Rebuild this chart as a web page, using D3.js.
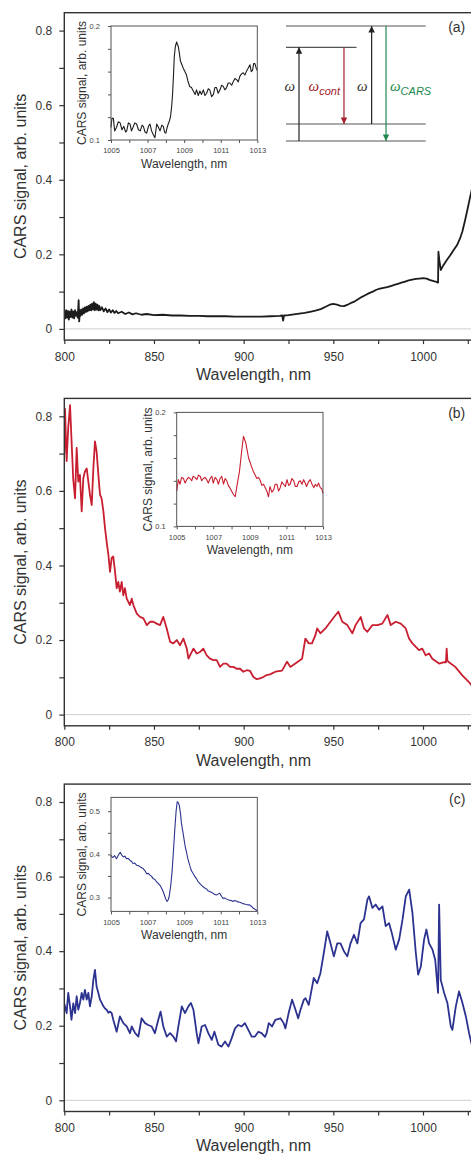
<!DOCTYPE html>
<html>
<head>
<meta charset="utf-8">
<script src="https://cdn.jsdelivr.net/npm/d3@7"></script>
<style>
  body { margin: 0; background: #fff; }
  svg { display: block; font-family: "Liberation Sans", Arial, sans-serif; }
</style>
</head>
<body>
<div id="chart"></div>
<script>
// spectra: [wavelength (nm), CARS signal (arb. units)]
var spectrumA = [[800,0.040],[800.5,0.028],[801,0.050],[801.5,0.030],[802,0.048],[802.5,0.025],[803,0.046],[803.5,0.032],[804,0.052],[804.5,0.030],[805,0.047],[805.5,0.028],[806,0.050],[806.5,0.035],[807,0.045],[807.5,0.030],[808,0.077],[808.3,0.020],[808.7,0.050],[809,0.035],[809.5,0.052],[810,0.038],[810.5,0.055],[811,0.042],[811.5,0.058],[812,0.045],[812.5,0.060],[813,0.047],[813.5,0.062],[814,0.050],[814.5,0.065],[815,0.050],[815.5,0.068],[816,0.052],[816.5,0.072],[817,0.050],[817.5,0.068],[818,0.052],[818.5,0.065],[819,0.050],[819.5,0.062],[820,0.050],[821,0.058],[822,0.047],[823,0.055],[824,0.045],[825,0.052],[826,0.044],[827,0.050],[828,0.043],[829,0.048],[830,0.042],[832,0.046],[834,0.040],[836,0.044],[838,0.039],[840,0.042],[843,0.038],[846,0.040],[850,0.037],[855,0.038],[860,0.036],[865,0.036],[870,0.035],[875,0.035],[880,0.034],[885,0.034],[890,0.034],[895,0.033],[900,0.033],[905,0.033],[910,0.033],[915,0.034],[920,0.035],[921.5,0.036],[922,0.022],[922.5,0.036],[925,0.037],[928,0.039],[931,0.041],[934,0.043],[937,0.046],[940,0.049],[943,0.053],[946,0.060],[948,0.065],[950,0.067],[952,0.065],[954,0.062],[956,0.061],[958,0.065],[960,0.070],[962,0.074],[964,0.080],[966,0.086],[968,0.091],[970,0.096],[972,0.100],[974,0.105],[976,0.108],[978,0.110],[980,0.112],[982,0.115],[984,0.118],[986,0.121],[988,0.124],[990,0.127],[992,0.130],[994,0.132],[996,0.134],[998,0.135],[1000,0.136],[1002,0.135],[1004,0.131],[1006,0.128],[1007.5,0.126],[1008.4,0.124],[1008.6,0.207],[1009.1,0.185],[1009.9,0.158],[1011.4,0.171],[1013.2,0.184],[1015,0.196],[1017,0.211],[1019,0.225],[1020.6,0.242],[1022,0.262],[1023.5,0.292],[1025,0.325],[1026.2,0.352],[1027.5,0.380],[1029,0.410]];

var spectrumB = [[800,0.70],[800.4,0.82],[801.3,0.68],[802.2,0.77],[803.2,0.83],[804,0.74],[805,0.63],[806,0.58],[806.9,0.715],[807.8,0.625],[808.7,0.643],[809.7,0.545],[810.6,0.634],[811.5,0.652],[812.5,0.66],[813.4,0.625],[814.3,0.59],[815.3,0.562],[816.2,0.66],[817.1,0.733],[818,0.706],[819,0.643],[819.9,0.59],[820.8,0.58],[821.8,0.545],[822.7,0.5],[823.6,0.464],[824.6,0.428],[825.5,0.383],[826.4,0.42],[827.3,0.424],[828.3,0.383],[829.2,0.339],[830.1,0.356],[831,0.33],[832,0.356],[832.9,0.32],[833.8,0.339],[834.8,0.311],[836.6,0.294],[837.6,0.311],[838.5,0.294],[840.4,0.271],[842.2,0.262],[844.1,0.258],[846,0.24],[847.8,0.249],[849.7,0.249],[851.5,0.244],[853.4,0.24],[855.2,0.262],[857.1,0.231],[859,0.195],[860.8,0.191],[862.7,0.2],[864.5,0.186],[866.4,0.204],[868.3,0.177],[869.2,0.15],[872,0.177],[873.8,0.164],[875.7,0.168],[877.5,0.177],[879.4,0.159],[881.2,0.15],[883.1,0.146],[885,0.146],[886.8,0.128],[888.7,0.137],[890.5,0.137],[892.4,0.128],[894.3,0.128],[896.1,0.123],[898,0.123],[899.8,0.115],[901.7,0.119],[903.6,0.117],[905.4,0.101],[907.3,0.095],[909.1,0.097],[911,0.101],[912.8,0.106],[914.7,0.108],[917.7,0.115],[921.4,0.118],[924.2,0.142],[926,0.128],[928.8,0.137],[932.6,0.15],[934.4,0.204],[936.3,0.191],[938.1,0.191],[940,0.213],[941,0.231],[942.8,0.218],[945.6,0.231],[948.4,0.249],[951.3,0.267],[952.8,0.276],[955,0.249],[957.8,0.24],[960.6,0.218],[962.4,0.24],[965.3,0.262],[967.1,0.231],[969,0.222],[971.8,0.24],[974.6,0.24],[977.3,0.244],[980.2,0.267],[982,0.24],[984.8,0.249],[987.6,0.244],[990.4,0.231],[992.2,0.204],[994.1,0.191],[997.8,0.173],[999.6,0.177],[1001.5,0.159],[1003.4,0.164],[1005.2,0.15],[1009,0.137],[1011.8,0.141],[1012.8,0.14],[1013.2,0.177],[1013.6,0.145],[1014.3,0.141],[1018,0.128],[1021.8,0.106],[1025.5,0.088],[1026.8,0.08],[1028,0.072]];

var spectrumC = [[800,0.26],[800.4,0.252],[801.3,0.234],[802.2,0.288],[803.2,0.252],[804,0.216],[805,0.26],[806,0.234],[806.9,0.279],[807.8,0.243],[808.7,0.26],[809.7,0.288],[810.6,0.27],[811.5,0.296],[812.5,0.27],[813.4,0.288],[814.3,0.252],[815.3,0.279],[816.2,0.323],[817.1,0.35],[818,0.305],[819,0.288],[819.9,0.27],[820.8,0.262],[821.8,0.252],[822.7,0.246],[823.6,0.243],[824.6,0.235],[825.5,0.238],[826.4,0.234],[827.3,0.216],[829.2,0.184],[831,0.225],[832.9,0.207],[834.8,0.198],[836.6,0.18],[837.6,0.198],[839.5,0.18],[841.3,0.171],[843.1,0.22],[845,0.207],[846.8,0.202],[848.7,0.198],[850.5,0.18],[852.4,0.216],[853.7,0.238],[855.2,0.198],[857.1,0.171],[859,0.18],[860.8,0.171],[862.3,0.158],[863.6,0.198],[865.5,0.252],[867.3,0.234],[869.2,0.252],[870.6,0.261],[872,0.243],[873.8,0.18],[874.8,0.153],[876.6,0.198],[878.5,0.202],[880.3,0.18],[882.2,0.162],[883.7,0.184],[885.9,0.149],[887.7,0.144],[889.6,0.158],[891.5,0.144],[893.3,0.166],[895.2,0.193],[897,0.202],[898.9,0.198],[900.7,0.207],[902.6,0.189],[904.5,0.171],[906.3,0.171],[908.2,0.184],[910,0.18],[911.9,0.17],[912.8,0.18],[914,0.207],[915.8,0.198],[917.7,0.216],[920.5,0.22],[922.3,0.207],[923.3,0.193],[925.1,0.234],[927,0.27],[928.9,0.243],[930.4,0.22],[931.7,0.243],[933.6,0.27],[934.5,0.274],[936.3,0.256],[938.2,0.305],[939.1,0.328],[941,0.314],[942.8,0.341],[944.7,0.395],[946.6,0.453],[948.4,0.421],[950.3,0.386],[952.2,0.421],[954,0.421],[955.9,0.4],[957.8,0.386],[959.6,0.421],[961.5,0.444],[963.4,0.421],[965.2,0.475],[967.1,0.485],[969,0.538],[969.9,0.547],[971.8,0.516],[973.6,0.525],[975.5,0.511],[977.4,0.52],[979.2,0.467],[981.1,0.475],[982.6,0.449],[984.8,0.404],[986.7,0.431],[988.6,0.485],[990.4,0.547],[992.3,0.565],[994.1,0.503],[996,0.395],[997.3,0.337],[998.8,0.359],[1000.6,0.431],[1001.9,0.458],[1003.4,0.421],[1005.3,0.404],[1006.8,0.377],[1008.4,0.288],[1009,0.525],[1009.9,0.323],[1011.8,0.288],[1013.6,0.261],[1015.5,0.198],[1016.4,0.189],[1018.3,0.252],[1020.1,0.292],[1022,0.261],[1023.9,0.225],[1025.7,0.18],[1027,0.153],[1028.5,0.13]];

// zoomed spectra near 1009 nm
var insetA = [[1005,0.111],[1005.05,0.119],[1005.13,0.119],[1005.2,0.108],[1005.3,0.111],[1005.4,0.116],[1005.5,0.115],[1005.6,0.109],[1005.7,0.112],[1005.8,0.107],[1005.86,0.108],[1005.95,0.115],[1006.04,0.114],[1006.12,0.108],[1006.2,0.111],[1006.3,0.115],[1006.4,0.114],[1006.5,0.109],[1006.6,0.108],[1006.7,0.113],[1006.77,0.112],[1006.86,0.107],[1006.95,0.106],[1007.05,0.112],[1007.13,0.114],[1007.22,0.108],[1007.3,0.105],[1007.4,0.102],[1007.5,0.114],[1007.6,0.111],[1007.68,0.108],[1007.78,0.113],[1007.86,0.112],[1007.93,0.107],[1008,0.106],[1008.07,0.111],[1008.13,0.114],[1008.2,0.117],[1008.26,0.121],[1008.32,0.13],[1008.37,0.141],[1008.42,0.158],[1008.46,0.173],[1008.52,0.182],[1008.59,0.186],[1008.63,0.184],[1008.68,0.182],[1008.74,0.176],[1008.8,0.169],[1008.88,0.166],[1008.95,0.163],[1009.04,0.16],[1009.13,0.157],[1009.2,0.152],[1009.3,0.147],[1009.4,0.146],[1009.5,0.143],[1009.6,0.14],[1009.68,0.144],[1009.77,0.139],[1009.86,0.143],[1009.95,0.14],[1010.05,0.144],[1010.14,0.139],[1010.23,0.141],[1010.32,0.145],[1010.4,0.144],[1010.5,0.138],[1010.6,0.14],[1010.68,0.146],[1010.77,0.146],[1010.86,0.141],[1010.96,0.144],[1011.05,0.148],[1011.14,0.147],[1011.23,0.144],[1011.32,0.146],[1011.41,0.15],[1011.5,0.15],[1011.6,0.148],[1011.68,0.151],[1011.78,0.154],[1011.87,0.153],[1011.96,0.151],[1012.05,0.156],[1012.14,0.158],[1012.23,0.159],[1012.32,0.157],[1012.4,0.16],[1012.5,0.163],[1012.6,0.166],[1012.67,0.16],[1012.74,0.161],[1012.8,0.167],[1012.87,0.167],[1012.94,0.163],[1013,0.161]];

var insetB = [[1005,0.131],[1005.09,0.141],[1005.18,0.137],[1005.27,0.143],[1005.37,0.142],[1005.46,0.138],[1005.55,0.141],[1005.64,0.143],[1005.73,0.142],[1005.82,0.14],[1005.9,0.144],[1006,0.143],[1006.1,0.141],[1006.19,0.145],[1006.28,0.144],[1006.37,0.14],[1006.46,0.142],[1006.55,0.143],[1006.64,0.141],[1006.73,0.138],[1006.83,0.142],[1006.92,0.144],[1007,0.138],[1007.1,0.143],[1007.2,0.141],[1007.28,0.137],[1007.37,0.142],[1007.46,0.144],[1007.56,0.137],[1007.65,0.142],[1007.74,0.14],[1007.82,0.136],[1007.9,0.134],[1008,0.131],[1008.1,0.128],[1008.2,0.126],[1008.26,0.132],[1008.32,0.138],[1008.43,0.148],[1008.5,0.158],[1008.56,0.167],[1008.65,0.179],[1008.72,0.176],[1008.78,0.173],[1008.86,0.166],[1008.93,0.16],[1009.02,0.156],[1009.1,0.152],[1009.2,0.148],[1009.29,0.145],[1009.38,0.142],[1009.48,0.143],[1009.57,0.14],[1009.66,0.136],[1009.75,0.137],[1009.84,0.134],[1009.93,0.131],[1010.02,0.126],[1010.1,0.135],[1010.2,0.13],[1010.3,0.132],[1010.39,0.137],[1010.48,0.137],[1010.57,0.131],[1010.66,0.134],[1010.75,0.139],[1010.84,0.137],[1010.94,0.135],[1011.03,0.141],[1011.12,0.136],[1011.2,0.137],[1011.3,0.142],[1011.4,0.14],[1011.49,0.135],[1011.58,0.135],[1011.67,0.139],[1011.76,0.14],[1011.85,0.137],[1011.94,0.141],[1012.03,0.138],[1012.1,0.135],[1012.2,0.139],[1012.3,0.141],[1012.4,0.137],[1012.5,0.134],[1012.58,0.137],[1012.67,0.135],[1012.76,0.138],[1012.85,0.134],[1012.93,0.133],[1013,0.129]];

var insetC = [[1005,0.398],[1005.07,0.393],[1005.13,0.394],[1005.2,0.397],[1005.3,0.39],[1005.4,0.398],[1005.5,0.405],[1005.58,0.399],[1005.67,0.394],[1005.76,0.396],[1005.85,0.39],[1005.94,0.391],[1006.04,0.386],[1006.12,0.384],[1006.2,0.379],[1006.3,0.38],[1006.4,0.375],[1006.5,0.374],[1006.6,0.371],[1006.68,0.369],[1006.76,0.367],[1006.86,0.362],[1006.95,0.355],[1007.04,0.356],[1007.13,0.352],[1007.22,0.349],[1007.3,0.344],[1007.4,0.342],[1007.5,0.336],[1007.58,0.333],[1007.67,0.329],[1007.76,0.322],[1007.85,0.314],[1007.92,0.306],[1007.98,0.298],[1008.07,0.291],[1008.13,0.295],[1008.18,0.302],[1008.27,0.329],[1008.34,0.36],[1008.4,0.398],[1008.5,0.465],[1008.56,0.5],[1008.62,0.522],[1008.68,0.52],[1008.73,0.514],[1008.8,0.495],[1008.85,0.473],[1008.92,0.455],[1008.98,0.439],[1009.05,0.42],[1009.13,0.405],[1009.2,0.39],[1009.3,0.375],[1009.4,0.362],[1009.5,0.355],[1009.58,0.349],[1009.67,0.344],[1009.76,0.337],[1009.85,0.333],[1009.94,0.329],[1010.04,0.325],[1010.12,0.322],[1010.2,0.321],[1010.3,0.316],[1010.4,0.314],[1010.5,0.312],[1010.58,0.31],[1010.67,0.307],[1010.76,0.306],[1010.85,0.308],[1010.95,0.31],[1011.04,0.303],[1011.13,0.298],[1011.22,0.299],[1011.3,0.297],[1011.4,0.295],[1011.5,0.294],[1011.58,0.293],[1011.67,0.291],[1011.76,0.293],[1011.85,0.292],[1011.94,0.29],[1012.04,0.289],[1012.12,0.288],[1012.2,0.286],[1012.3,0.285],[1012.4,0.284],[1012.5,0.283],[1012.58,0.283],[1012.67,0.28],[1012.76,0.276],[1012.85,0.274],[1012.93,0.271],[1013,0.27]];

var panelLabels = ["(a)", "(b)", "(c)"];
var lineColors = ["#1c1c1c", "#c81e30", "#2c3290"];

var mainXTicks = [800, 825, 850, 875, 900, 925, 950, 975, 1000, 1025];
var mainXLabels = [800, 850, 900, 950, 1000];
var mainYTicks = [0, 0.1, 0.2, 0.3, 0.4, 0.5, 0.6, 0.7, 0.8];
var mainYLabels = [0, 0.2, 0.4, 0.6, 0.8];

var insetXTicks = [1005, 1006, 1007, 1008, 1009, 1010, 1011, 1012, 1013];
var insetXLabels = [1005, 1007, 1009, 1011, 1013];
var insetYTicks = [[0.1, 0.12, 0.14, 0.16, 0.18, 0.2], [0.1, 0.12, 0.14, 0.16, 0.18, 0.2], [0.3, 0.35, 0.4, 0.45, 0.5]];
var insetYLabels = [[0.1, 0.2], [0.1, 0.2], [0.3, 0.4, 0.5]];
var insetYDomains = [[0.1, 0.2], [0.1, 0.2], [0.268, 0.532]];

// energy level scheme in panel (a), in diagram units (0..1)
var levelEnergy = [1, 0.815, 0.148, 0];
var levelEnd = [1, 0.505, 1, 1];
var arrowPos = [0.093, 0.415, 0.613, 0.716];
var arrowFrom = [0, 0.815, 0.148, 1];
var arrowTo = [0.815, 0.148, 1, 0];
var arrowColor = ["#222", "#a3212c", "#222", "#23884f"];
var arrowSub = ["", "cont", "", "CARS"];

var W = 471, H = 1157;
var left = 64.3, top0 = 12.7, panelStep = 385.7, plotH = 327.4, plotW = 412.5;
var insetW = 146.3, insetH = 114;
var insetLeft = [46.7, 112.4, 46.7], insetTop = [13.3, 14, 13.3];
var spectra = [spectrumA, spectrumB, spectrumC];
var insets = [insetA, insetB, insetC];

var svg = d3.select('#chart').append('svg').attr('width', W).attr('height', H);

var x = d3.scaleLinear().domain([800, 1030]).range([0, plotW]);
var y = d3.scaleLinear().domain([-0.03, 0.848]).range([plotH, 0]);

function fmt(d) {
  return d === 0 ? '0' : d3.format('.1f')(d);
}

function drawPanel(i) {
  var g = svg.append('g').attr('transform', 'translate(' + left + ',' + (top0 + i * panelStep) + ')');

  g.append('clipPath').attr('id', 'clip' + i)
    .append('rect').attr('width', plotW).attr('height', plotH);

  // zero line
  g.append('line')
    .attr('x1', 0).attr('x2', plotW)
    .attr('y1', y(0)).attr('y2', y(0))
    .attr('stroke', '#cfcfcf').attr('stroke-width', 1);

  var line = d3.line().x(function(d) { return x(d[0]); }).y(function(d) { return y(d[1]); });
  g.append('path').datum(spectra[i])
    .attr('clip-path', 'url(#clip' + i + ')')
    .attr('d', line)
    .attr('fill', 'none')
    .attr('stroke', lineColors[i])
    .attr('stroke-width', 1.8)
    .attr('stroke-linejoin', 'round');

  var xAxis = d3.axisBottom(x).tickValues(mainXTicks).tickSize(4).tickPadding(8)
    .tickFormat(function(d) { return mainXLabels.indexOf(d) >= 0 ? d : ''; });
  var gx = g.append('g').attr('transform', 'translate(0,' + plotH + ')').call(xAxis);
  gx.select('.domain').remove();
  gx.selectAll('line').attr('stroke', '#333').attr('stroke-width', 1.2);
  gx.selectAll('text').attr('font-size', 12).attr('fill', '#333');

  var yAxis = d3.axisLeft(y).tickValues(mainYTicks).tickSize(5).tickPadding(7)
    .tickFormat(function(d) { return mainYLabels.indexOf(d) >= 0 ? fmt(d) : ''; });
  var gy = g.append('g').call(yAxis);
  gy.select('.domain').remove();
  gy.selectAll('line').attr('stroke', '#333').attr('stroke-width', 1.2);
  gy.selectAll('text').attr('font-size', 12).attr('fill', '#333');

  // frame
  g.append('rect').attr('width', plotW).attr('height', plotH)
    .attr('fill', 'none').attr('stroke', '#333').attr('stroke-width', 1.4);

  g.append('text')
    .attr('x', plotW / 2 - 17).attr('y', plotH + 40)
    .attr('text-anchor', 'middle').attr('font-size', 16).attr('fill', '#333')
    .text('Wavelength, nm');

  g.append('text')
    .attr('transform', 'translate(' + (26 - left) + ',' + (plotH / 2) + ') rotate(-90)')
    .attr('text-anchor', 'middle').attr('font-size', 16).attr('fill', '#333')
    .text('CARS signal, arb. units');

  g.append('text')
    .attr('x', 401).attr('y', 19.5)
    .attr('text-anchor', 'end').attr('font-size', 14).attr('fill', '#333')
    .text(panelLabels[i]);

  drawInset(g, i);
  if (i === 0) drawScheme(g);
}

function drawInset(parent, i) {
  var g = parent.append('g').attr('transform', 'translate(' + insetLeft[i] + ',' + insetTop[i] + ')');
  var ix = d3.scaleLinear().domain([1005, 1013]).range([0, insetW]);
  var iy = d3.scaleLinear().domain(insetYDomains[i]).range([insetH, 0]);

  g.append('rect').attr('width', insetW).attr('height', insetH).attr('fill', '#fff');

  var line = d3.line().x(function(d) { return ix(d[0]); }).y(function(d) { return iy(d[1]); });
  g.append('path').datum(insets[i])
    .attr('d', line)
    .attr('fill', 'none')
    .attr('stroke', lineColors[i])
    .attr('stroke-width', 1.1)
    .attr('stroke-linejoin', 'round');

  var xAxis = d3.axisBottom(ix).tickValues(insetXTicks).tickSize(3).tickPadding(5)
    .tickFormat(function(d) { return insetXLabels.indexOf(d) >= 0 ? d : ''; });
  var gx = g.append('g').attr('transform', 'translate(0,' + insetH + ')').call(xAxis);
  gx.select('.domain').remove();
  gx.selectAll('line').attr('stroke', '#555');
  gx.selectAll('text').attr('font-size', 7.5).attr('fill', '#444');

  var yAxis = d3.axisLeft(iy).tickValues(insetYTicks[i]).tickSize(3).tickPadding(8)
    .tickFormat(function(d) { return insetYLabels[i].indexOf(d) >= 0 ? d3.format('.1f')(d) : ''; });
  var gy = g.append('g').call(yAxis);
  gy.select('.domain').remove();
  gy.selectAll('line').attr('stroke', '#555');
  gy.selectAll('text').attr('font-size', 7.5).attr('fill', '#444');

  g.append('rect').attr('width', insetW).attr('height', insetH)
    .attr('fill', 'none').attr('stroke', '#555').attr('stroke-width', 1);

  g.append('text')
    .attr('x', insetW / 2).attr('y', insetH + 27.5)
    .attr('text-anchor', 'middle').attr('font-size', 12).attr('fill', '#333')
    .text('Wavelength, nm');

  g.append('text')
    .attr('transform', 'translate(-25,' + (insetH / 2) + ') rotate(-90)')
    .attr('text-anchor', 'middle').attr('font-size', 12).attr('fill', '#333')
    .text('CARS signal, arb. units');
}

function drawScheme(parent) {
  var g = parent.append('g');
  var sx = d3.scaleLinear().domain([0, 1]).range([286 - left, 425.7 - left]);
  var sy = d3.scaleLinear().domain([0, 1]).range([141 - top0, 26 - top0]);

  var defs = g.append('defs');
  arrowColor.forEach(function(c, k) {
    defs.append('marker').attr('id', 'head' + k)
      .attr('viewBox', '0 0 10 10').attr('refX', 10).attr('refY', 5)
      .attr('markerUnits', 'userSpaceOnUse')
      .attr('markerWidth', 10).attr('markerHeight', 6.5)
      .attr('orient', 'auto')
      .append('path').attr('d', 'M0,0L10,5L0,10Z').attr('fill', c);
  });

  g.selectAll('line.level').data(levelEnergy).enter().append('line')
    .attr('class', 'level')
    .attr('x1', sx(0)).attr('x2', function(d, k) { return sx(levelEnd[k]); })
    .attr('y1', function(d) { return sy(d); }).attr('y2', function(d) { return sy(d); })
    .attr('stroke', '#555').attr('stroke-width', 1.2);

  g.selectAll('line.arrow').data(arrowPos).enter().append('line')
    .attr('class', 'arrow')
    .attr('x1', function(d) { return sx(d); }).attr('x2', function(d) { return sx(d); })
    .attr('y1', function(d, k) { return sy(arrowFrom[k]); })
    .attr('y2', function(d, k) { return sy(arrowTo[k]); })
    .attr('stroke', function(d, k) { return arrowColor[k]; })
    .attr('stroke-width', 1.2)
    .attr('marker-end', function(d, k) { return 'url(#head' + k + ')'; });

  arrowPos.forEach(function(p, k) {
    var last = k === arrowPos.length - 1;
    var t = g.append('text')
      .attr('x', last ? sx(p) + 4 : sx(p) - 4)
      .attr('y', sy(0.435))
      .attr('text-anchor', last ? 'start' : 'end')
      .attr('fill', arrowColor[k] === '#222' ? '#333' : arrowColor[k]);
    t.append('tspan')
      .attr('font-family', '"Liberation Serif", "DejaVu Serif", serif')
      .attr('font-style', 'italic').attr('font-size', 15)
      .text('ω');
    if (arrowSub[k]) {
      t.append('tspan')
        .attr('font-style', 'italic').attr('font-size', 11).attr('dy', 4)
        .text(arrowSub[k]);
    }
  });
}

[0, 1, 2].forEach(drawPanel);
</script>
</body>
</html>
